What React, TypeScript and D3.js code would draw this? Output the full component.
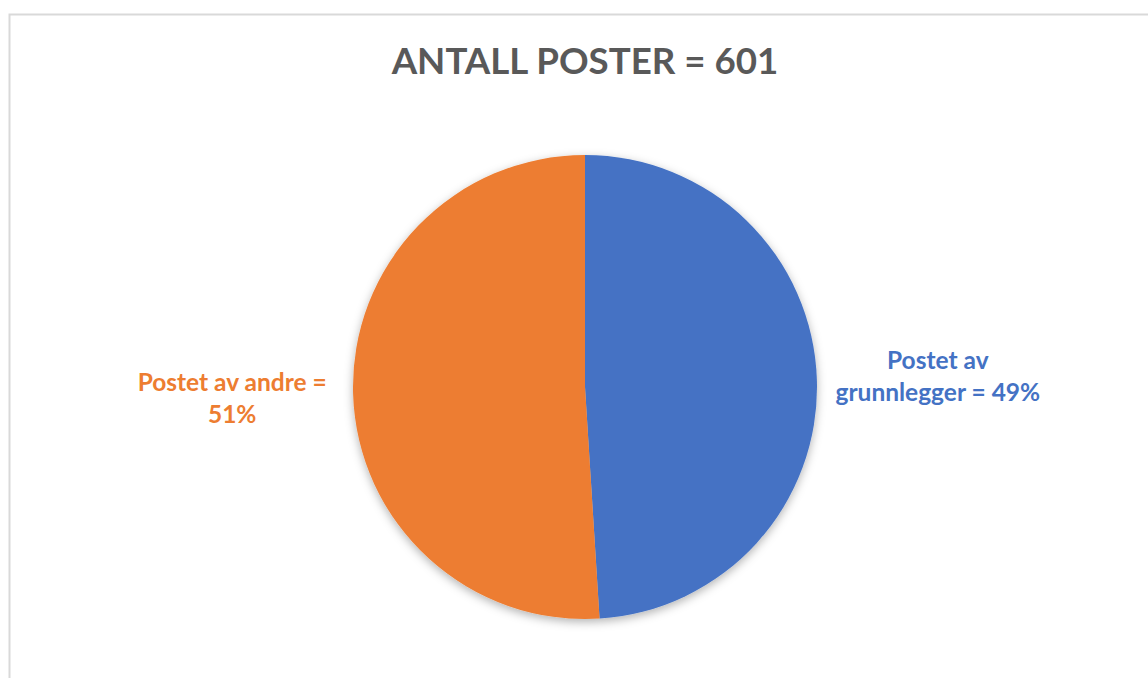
import React from "react";
import * as d3 from "d3";

const title = "ANTALL POSTER = 601";
const categories = ["Postet av grunnlegger", "Postet av andre"];
const values = [49, 51];
const labelLines = [
  ["Postet av", "grunnlegger = 49%"],
  ["Postet av andre =", "51%"],
];
const colors = ["#4472C4", "#ED7D31"];

const W = 1148;
const H = 678;

export default function App() {
  const cx = 585;
  const cy = 387;
  const r = 232;
  const pie = d3.pie<number>().sort(null).value((d) => d);
  const arcs = pie(values);
  const arc = d3.arc<d3.PieArcDatum<number>>().innerRadius(0).outerRadius(r);
  const labelArc = d3.arc<d3.PieArcDatum<number>>().innerRadius(353).outerRadius(353);
  const font = "Lato, 'Open Sans', sans-serif";
  const lh = 32;
  return (
    <svg width={W} height={H} style={{ position: "absolute", left: 0, top: 0 }}>
      <defs>
        <filter id="sh" x="-20%" y="-20%" width="140%" height="140%">
          <feDropShadow dx="0" dy="3" stdDeviation="5" floodColor="#000" floodOpacity="0.3" />
        </filter>
      </defs>
      <rect x={0} y={0} width={W} height={H} fill="#fff" />
      <path d={`M9.5,${H + 5} V14.5 H${W + 5}`} fill="none" stroke="#D9D9D9" strokeWidth={2} />
      <text x={cx} y={74} textAnchor="middle" fontFamily={font} fontWeight="bold" fontSize={36.7} fill="#595959">
        {title}
      </text>
      <g transform={`translate(${cx},${cy})`}>
        <g filter="url(#sh)">
          {arcs.map((a, i) => (
            <path key={categories[i]} d={arc(a) || ""} fill={colors[i]} />
          ))}
        </g>
        {arcs.map((a, i) => {
          const [lx, ly] = labelArc.centroid(a);
          const lines = labelLines[i];
          const y0 = ly - ((lines.length - 1) * lh) / 2 + 9;
          return (
            <text key={"l" + i} textAnchor="middle" fontFamily={font} fontWeight="bold" fontSize={24.5} fill={colors[i]}>
              {lines.map((t, j) => (
                <tspan key={j} x={lx} y={y0 + j * lh}>
                  {t}
                </tspan>
              ))}
            </text>
          );
        })}
      </g>
    </svg>
  );
}
